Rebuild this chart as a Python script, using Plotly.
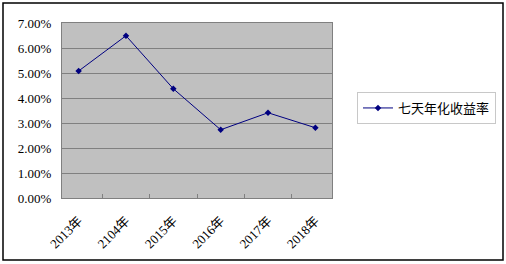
import plotly.graph_objects as go

categories = ["2013年", "2104年", "2015年", "2016年", "2017年", "2018年"]
values = [0.0508, 0.0649, 0.0437, 0.0273, 0.0341, 0.0281]
series_name = "七天年化收益率"
y_ticks = [0, 0.01, 0.02, 0.03, 0.04, 0.05, 0.06, 0.07]

W, H = 506, 264
L, R, T, B = 62, 332, 23, 198

def px_x(px):
    return (px - L) / (R - L)

def px_y(py):
    return (B - py) / (B - T)

font = "Liberation Serif, Noto Sans CJK SC, serif"

fig = go.Figure()
fig.add_trace(go.Scatter(
    x=categories, y=values, name=series_name, mode="lines+markers",
    line=dict(color="#000080", width=1),
    marker=dict(symbol="diamond", size=5, color="#000080"),
))

fig.update_layout(
    width=W, height=H,
    margin=dict(l=L, r=W - R, t=T, b=H - B, autoexpand=False),
    paper_bgcolor="white", plot_bgcolor="#c0c0c0",
    font=dict(family=font, size=13, color="black"),
    showlegend=True,
    legend=dict(x=px_x(357), y=px_y(92), xanchor="left", yanchor="top",
                bordercolor="#c8c8c8", borderwidth=1, bgcolor="white",
                font=dict(size=13, family="Noto Sans CJK SC, serif"),
                itemwidth=30),
    xaxis=dict(type="category", tickangle=-45, tickson="boundaries",
               ticks="inside", ticklen=4, tickcolor="#808080",
               showline=True, linecolor="#808080", linewidth=1, mirror=True,
               showgrid=False, tickfont=dict(size=13), fixedrange=True,
               automargin=False, ticklabelstandoff=9),
    yaxis=dict(range=[0, 0.07], tickvals=y_ticks, tickformat=".2%",
               showgrid=True, gridcolor="#808080", gridwidth=1,
               showline=True, linecolor="#808080", linewidth=1, mirror=True,
               ticks="", tickfont=dict(size=13), zeroline=False, fixedrange=True,
               automargin=False, ticklabelstandoff=7),
    shapes=[dict(type="rect", xref="paper", yref="paper",
                 x0=px_x(3), x1=px_x(503), y0=px_y(260), y1=px_y(3),
                 line=dict(color="black", width=1.5), layer="below")],
)

fig.write_html("out.html", config={"displayModeBar": False},
               post_script="document.body.style.margin='0';document.body.style.overflow='hidden';")
